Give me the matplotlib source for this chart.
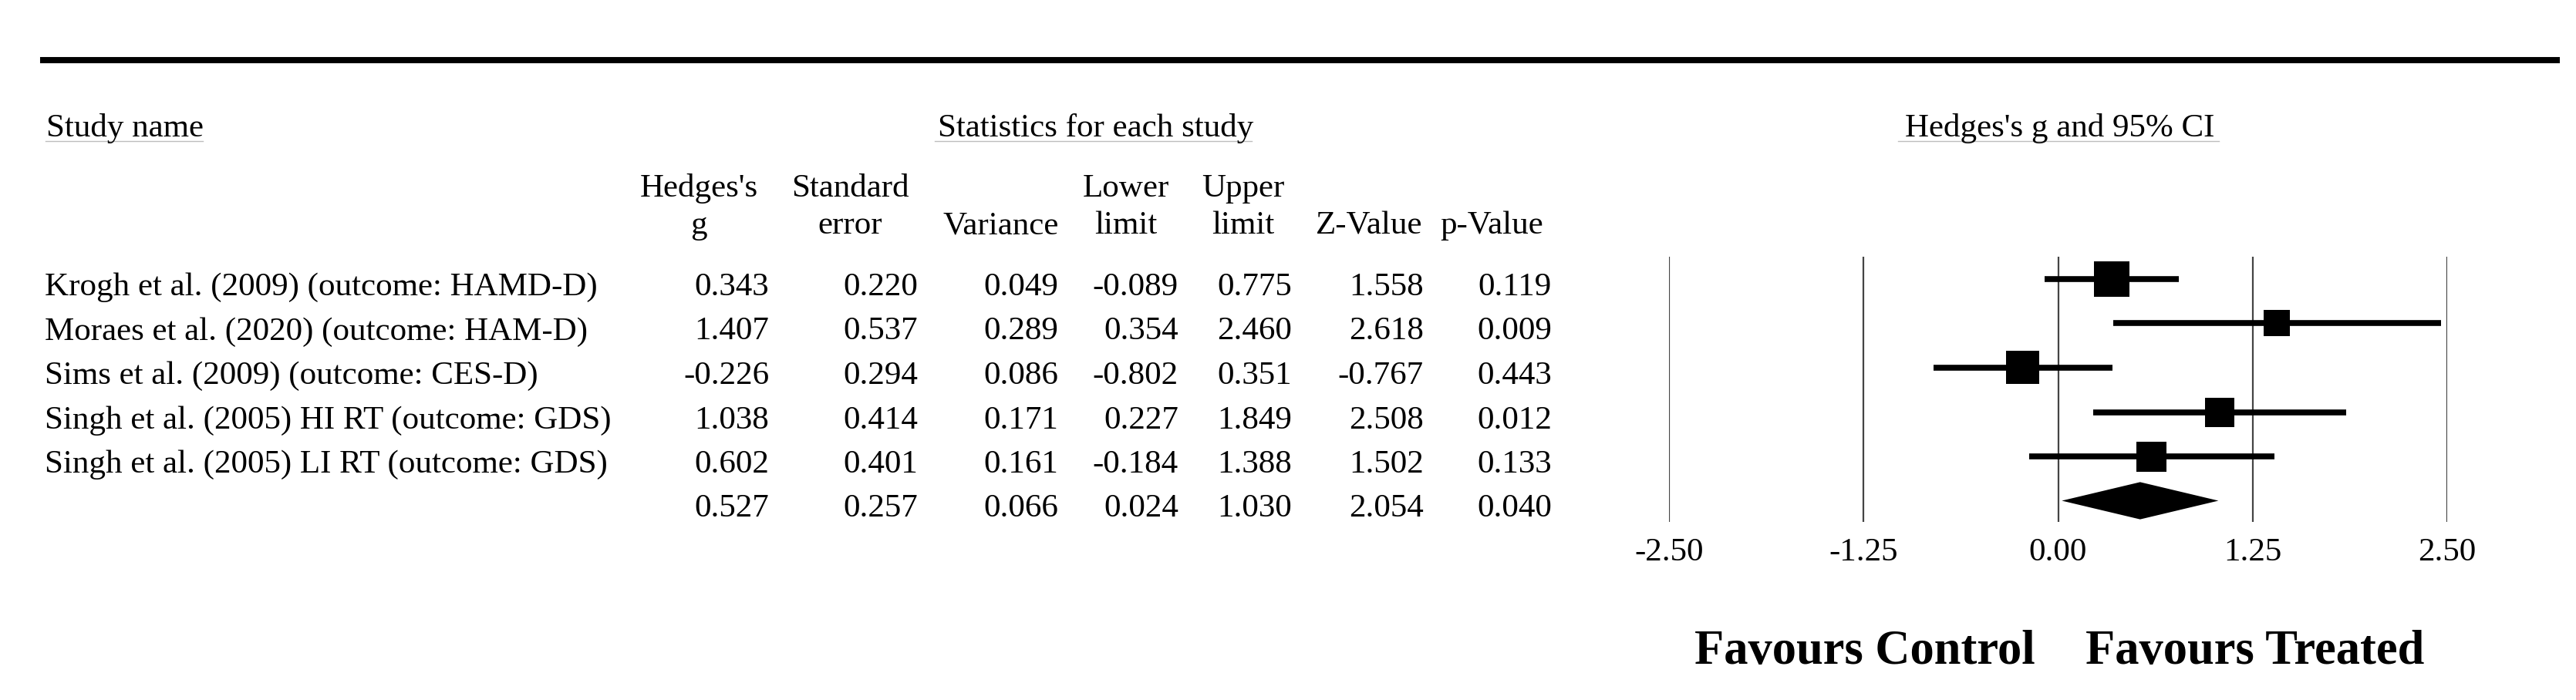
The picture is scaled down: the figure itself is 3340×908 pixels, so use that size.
import matplotlib
matplotlib.use("Agg")
import matplotlib.pyplot as plt
from matplotlib.lines import Line2D

plt.rcParams['font.family'] = ['Liberation Serif', 'DejaVu Serif']

# data
studies = ["Krogh et al. (2009) (outcome: HAMD-D)",
           "Moraes et al. (2020) (outcome: HAM-D)",
           "Sims et al. (2009) (outcome: CES-D)",
           "Singh et al. (2005) HI RT (outcome: GDS)",
           "Singh et al. (2005) LI RT (outcome: GDS)"]
hedges_g = [0.343, 1.407, -0.226, 1.038, 0.602]
std_err = [0.220, 0.537, 0.294, 0.414, 0.401]
variance = [0.049, 0.289, 0.086, 0.171, 0.161]
lower = [-0.089, 0.354, -0.802, 0.227, -0.184]
upper = [0.775, 2.460, 0.351, 1.849, 1.388]
z_value = [1.558, 2.618, -0.767, 2.508, 1.502]
p_value = [0.119, 0.009, 0.443, 0.012, 0.133]
# pooled row: g, se, var, lower, upper, z, p
pooled = [0.527, 0.257, 0.066, 0.024, 1.030, 2.054, 0.040]

col_top = ["Hedges's", "Standard", "", "Lower", "Upper", "", ""]
col_bottom = ["g", "error", "Variance", "limit", "limit", "Z-Value", "p-Value"]
x_ticks = [-2.50, -1.25, 0.00, 1.25, 2.50]
tick_labels = ["-2.50", "-1.25", "0.00", "1.25", "2.50"]

# layout (pixels of the 3340x908 canvas)
W, H = 3340, 908
FS = 31


def fx(px):
    return px / W


def fy(py):
    return 1 - py / H


fig = plt.figure(figsize=(W / 100, H / 100), dpi=100)

# thick rule on top
fig.add_artist(Line2D([fx(56), fx(3315)], [fy(78), fy(78)], lw=5.8,
                      color="black", transform=fig.transFigure))

# section headers with their thin underlines
heads = [("Study name", 60, "left", 59, 263),
         ("Statistics for each study", 1421, "center", 1212, 1623),
         ("Hedges's g and 95% CI", 2671, "center", 2461, 2877)]
for txt, xp, ha, u0, u1 in heads:
    fig.text(fx(xp), fy(177), txt, ha=ha, va="baseline", fontsize=FS)
    fig.add_artist(Line2D([fx(u0), fx(u1)], [fy(183), fy(183)], lw=1.0,
                          color="#bdbdbd", transform=fig.transFigure))

# column headers
head_x = [906, 1102, 1298, 1460, 1612, 1775, 1934]
for xp, t1, t2 in zip(head_x, col_top, col_bottom):
    if t1:
        fig.text(fx(xp), fy(255), t1, ha="center", va="baseline", fontsize=FS)
    fig.text(fx(xp), fy(303), t2, ha="center", va="baseline", fontsize=FS)

# table body
row_px = [362 + 57.5 * i for i in range(6)]
num_right = [997, 1190, 1372, 1528, 1675, 1846, 2012]
columns = [hedges_g, std_err, variance, lower, upper, z_value, p_value]
for i, name in enumerate(studies):
    fig.text(fx(58), fy(row_px[i] + 21), name, ha="left", va="baseline", fontsize=FS)
    for xr, col in zip(num_right, columns):
        fig.text(fx(xr), fy(row_px[i] + 21), f"{col[i]:.3f}", ha="right",
                 va="baseline", fontsize=FS)
for xr, val in zip(num_right, pooled):
    fig.text(fx(xr), fy(row_px[5] + 21), f"{val:.3f}", ha="right",
             va="baseline", fontsize=FS)

# forest plot
ax = fig.add_axes([fx(2164), fy(677), fx(3173) - fx(2164), (677 - 333) / H])
ax.set_xlim(-2.5, 2.5)
ax.set_ylim((677 - 362) / 57.5, (333 - 362) / 57.5)
for t in x_ticks:
    ax.axvline(t, color="#444444", lw=1.6, zorder=1)

rows = list(range(len(studies)))
for r, lo, up in zip(rows, lower, upper):
    ax.plot([lo, up], [r, r], color="black", lw=5.5, solid_capstyle="butt", zorder=2)
square_px = [46, 34, 43, 38, 39]
ax.scatter(hedges_g, rows, s=[(p * 0.72) ** 2 for p in square_px], marker="s",
           color="black", linewidths=0, zorder=3)

pr = len(studies)
ax.fill([pooled[3], pooled[0], pooled[4], pooled[0]],
        [pr, pr - 0.42, pr, pr + 0.42], color="black", lw=0, zorder=3)

ax.set_xticks(x_ticks)
ax.set_xticklabels(tick_labels, fontsize=FS)
ax.set_yticks([])
ax.tick_params(axis="x", length=0, pad=15)
for s in ax.spines.values():
    s.set_visible(False)

fig.text(fx(2418), fy(861), "Favours Control", ha="center", va="baseline",
         fontsize=45, fontweight="bold")
fig.text(fx(2924), fy(861), "Favours Treated", ha="center", va="baseline",
         fontsize=45, fontweight="bold")

fig.savefig("out.png", dpi=100, facecolor="white")
